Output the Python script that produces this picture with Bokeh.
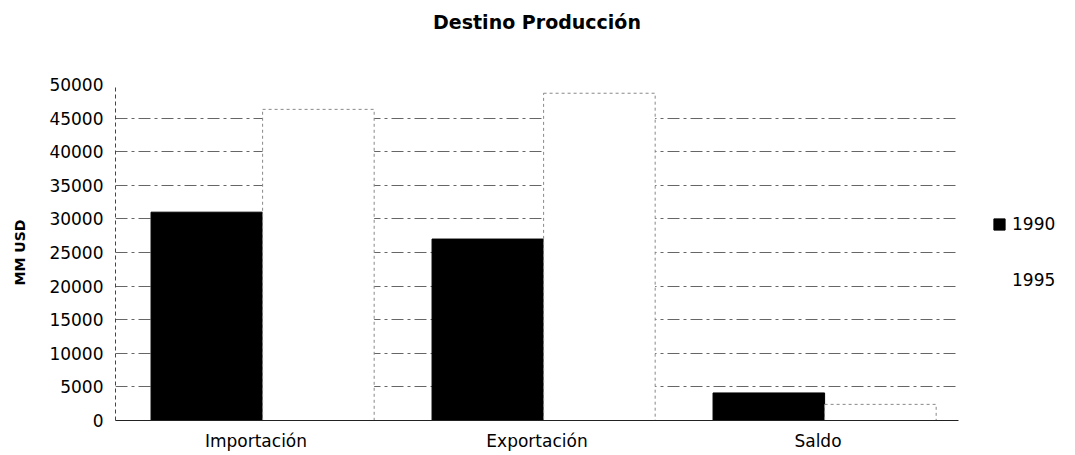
from bokeh.plotting import figure
from bokeh.models import ColumnDataSource, FactorRange, Range1d, Legend, LegendItem, NumeralTickFormatter, Title
from bokeh.transform import dodge
from bokeh.embed import file_html
from bokeh.resources import INLINE

categories = ["Importación", "Exportación", "Saldo"]
series_names = ["1990", "1995"]
values_1990 = [31000, 27000, 4100]
values_1995 = [46300, 48700, 2400]
y_ticks = [0, 5000, 10000, 15000, 20000, 25000, 30000, 35000, 40000, 45000, 50000]

src = ColumnDataSource(dict(cat=categories, v1990=values_1990, v1995=values_1995))

FONT = "DejaVu Sans"

p = figure(frame_width=843, frame_height=336, x_range=FactorRange(*categories), y_range=Range1d(0, 50000),
           output_backend="svg", toolbar_location=None,
           title="Destino Producción",
           min_border_left=115, min_border_right=0, min_border_top=84, min_border_bottom=31)

p.title.align = "center"
p.title.vertical_align = "top"
p.title.text_font = FONT
p.title.text_font_size = "19px"
p.title.text_font_style = "bold"
p.title.text_color = "black"
p.title.standoff = 20

# empty spacer between the title and the plot area
p.add_layout(Title(text=" ", text_font_size="10px", standoff=27), "above")

r1 = p.vbar(x=dodge("cat", -0.175, range=p.x_range), top="v1990", width=0.397, source=src,
            fill_color="black", line_color="black")
r2 = p.vbar(x=dodge("cat", 0.222, range=p.x_range), top="v1995", width=0.397, source=src,
            fill_color="white", line_color="#888888", line_dash="3 3", line_width=1)
# legend swatch for 1995: plain white, like the reference key
r2_key = p.vbar(x=[], top=[], width=0.397, fill_color="white", line_color=None)

p.outline_line_color = None
p.xgrid.grid_line_color = None
p.ygrid.grid_line_color = "#666666"
p.ygrid.grid_line_dash = "12 4 3 4"
p.ygrid.grid_line_width = 1

p.yaxis.ticker = y_ticks
p.yaxis.formatter = NumeralTickFormatter(format="0")
p.yaxis.major_label_text_font = FONT
p.yaxis.major_label_text_font_size = "17px"
p.yaxis.major_label_text_color = "black"
p.yaxis.major_tick_out = 0
p.yaxis.major_tick_in = 0
p.yaxis.minor_tick_out = 0
p.yaxis.minor_tick_in = 0
p.yaxis.major_label_standoff = 12
p.yaxis.axis_line_dash = "4 3"
p.yaxis.axis_line_color = "#444444"
p.yaxis.axis_label = "MM USD"
p.yaxis.axis_label_text_font = FONT
p.yaxis.axis_label_text_font_size = "14px"
p.yaxis.axis_label_text_font_style = "bold"
p.yaxis.axis_label_text_color = "black"
p.yaxis.axis_label_standoff = 18

p.xaxis.major_label_text_font = FONT
p.xaxis.major_label_text_font_size = "17px"
p.xaxis.major_label_text_color = "black"
p.xaxis.major_tick_out = 0
p.xaxis.major_tick_in = 0
p.xaxis.major_label_standoff = 10
p.xaxis.axis_line_color = "#222222"

legend = Legend(items=[LegendItem(label=series_names[0], renderers=[r1]),
                       LegendItem(label=series_names[1], renderers=[r2_key])],
                location="center_left", border_line_alpha=0, background_fill_alpha=0,
                glyph_width=14, glyph_height=14, label_standoff=6, spacing=36, padding=0, margin=34,
                label_text_font=FONT, label_text_font_size="17px", label_text_color="black")
p.add_layout(legend, "right")

open("out.html", "w").write(file_html(p, INLINE))
